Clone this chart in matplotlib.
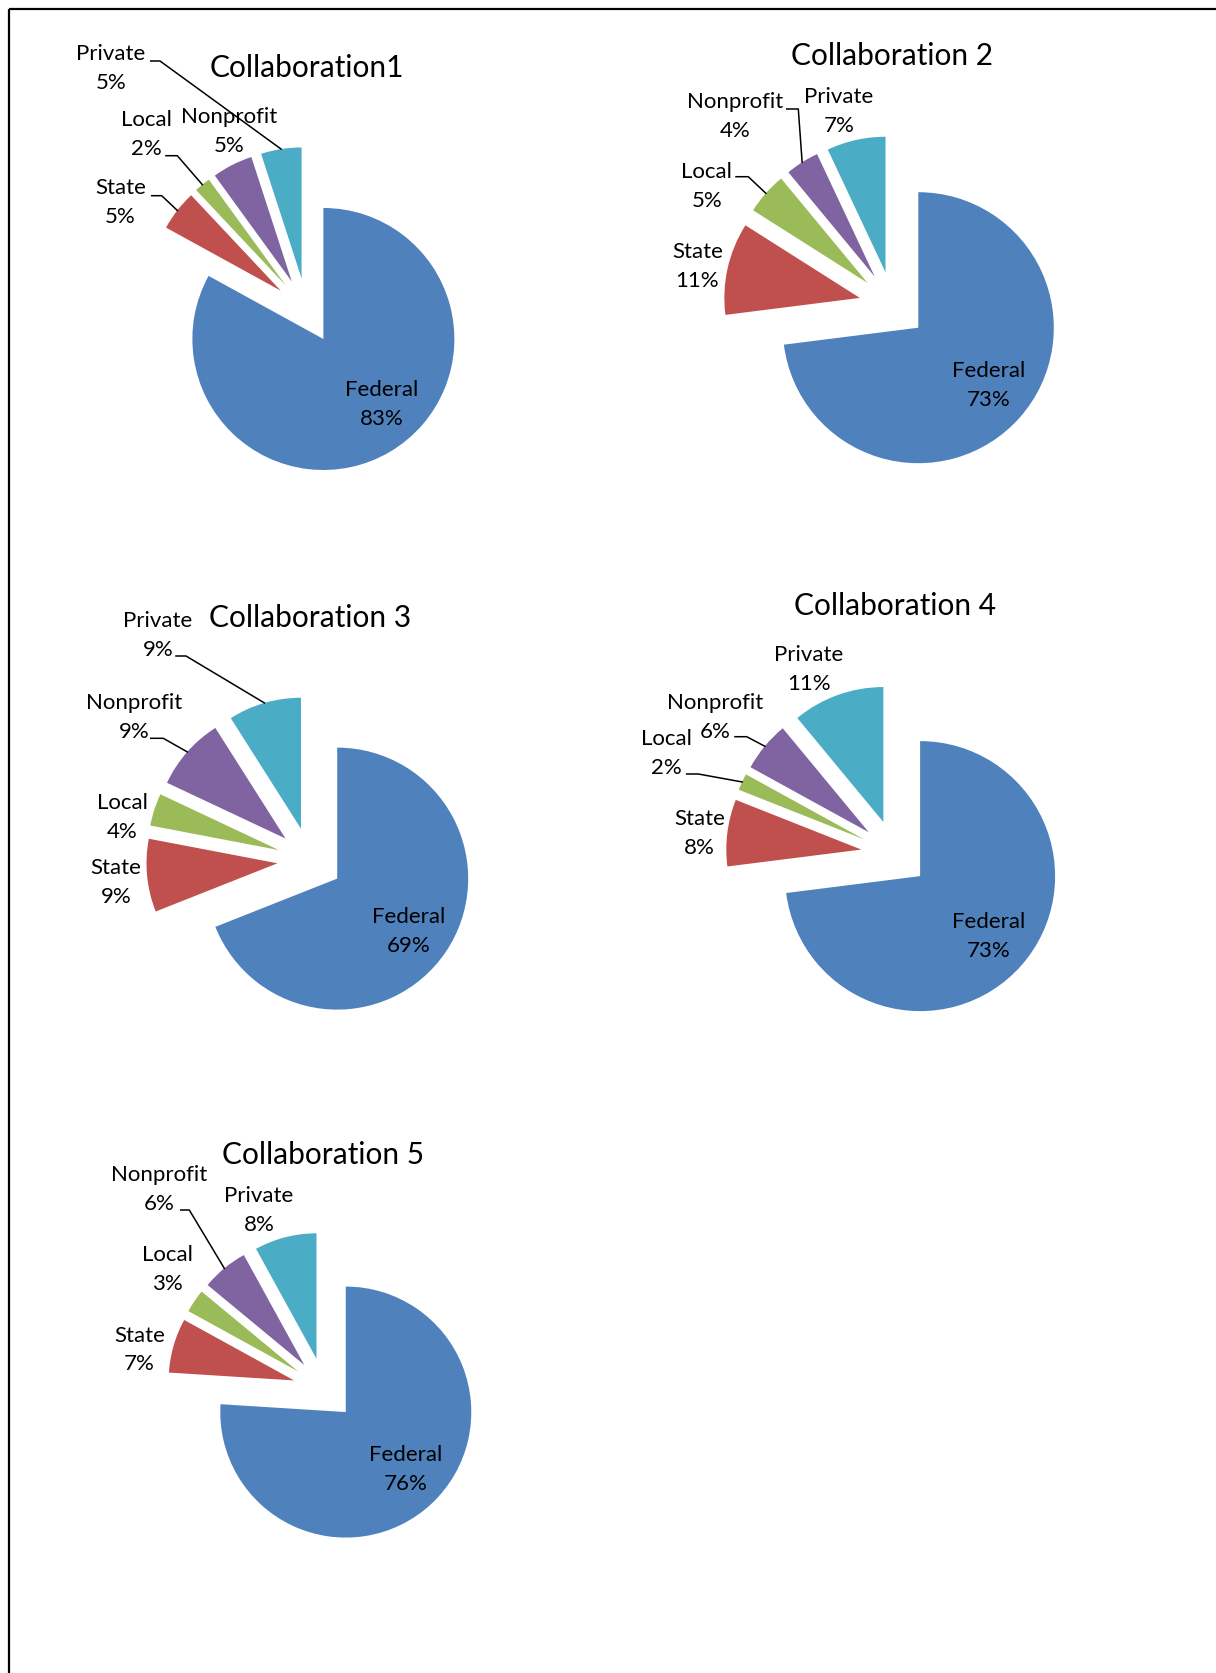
import matplotlib
matplotlib.use("Agg")
import matplotlib.pyplot as plt
import numpy as np

# %% data
categories = ["Federal", "State", "Local", "Nonprofit", "Private"]
collab1 = [83, 5, 2, 5, 5]
collab2 = [73, 11, 5, 4, 7]
collab3 = [69, 9, 4, 9, 9]
collab4 = [73, 8, 2, 6, 11]
collab5 = [76, 7, 3, 6, 8]
titles = ["Collaboration1", "Collaboration 2", "Collaboration 3",
          "Collaboration 4", "Collaboration 5"]
all_values = [collab1, collab2, collab3, collab4, collab5]

colors = ["#4F81BD", "#C0504D", "#9BBB59", "#8064A2", "#4BACC6"]

# %% layout (pixel positions, y measured from top of the page)
W, H = 1216, 1673
explode_frac = 0.25  # every slice pulled out by a quarter of the radius
layout = [
    dict(center=(306.7, 310.8), r=131, title=(306.7, 67.5),
         labels=[(382, 404.7), (120.5, 202.8), (146, 134.8), (229, 131.2), (111, 68.3)],
         leaders={1: (151.7, 195.7, 161.7), 2: (166, 155.7, 177.3), 4: (150.7, 61, 160)}),
    dict(center=(892.9, 305.3), r=135.5, title=(892.3, 56),
         labels=[(988.3, 385.8), (697.3, 266.2), (706.7, 186.7), (735.5, 116.7), (838.8, 111)],
         leaders={2: (736, 176.7, 748.3), 3: (786.7, 109, 798.3)}),
    dict(center=(310.1, 860.2), r=131, title=(310, 617.5),
         labels=[(408.3, 931.2), (115.8, 882.8), (122.5, 817.2), (133.8, 717.2), (157.8, 635.3)],
         leaders={3: (150.7, 738.3, 163.3), 4: (176, 656, 186)}),
    dict(center=(894.8, 853.8), r=135, title=(895, 606),
         labels=[(989, 936.8), (699.3, 833.2), (666.8, 753.5), (715.5, 717.2), (808.7, 669.2)],
         leaders={2: (686.7, 774, 698.3), 3: (735, 736.7, 746.7)}),
    dict(center=(324.3, 1389.2), r=125.5, title=(323.3, 1154.5),
         labels=[(406, 1469.5), (139.3, 1350), (167, 1269.5), (159.3, 1189.5), (259, 1210.5)],
         leaders={3: (180.7, 1210, 189.3)}),
]

font = "Lato"
label_size = 16
title_size = 21.5
line_gap = 29

fig = plt.figure(figsize=(W / 100, H / 100), dpi=100)
ax = fig.add_axes([0, 0, 1, 1])

for values, title, lay in zip(all_values, titles, layout):
    cx, cy = lay["center"]
    r = lay["r"]
    # pie's explode is in data units, so scale by the radius
    wedges, _ = ax.pie(values, colors=colors, startangle=90, counterclock=False,
                       explode=[explode_frac * r] * len(values), radius=r,
                       center=(cx, H - cy), wedgeprops=dict(linewidth=0))
    ax.text(lay["title"][0], H - lay["title"][1], title, ha="center", va="center",
            fontsize=title_size, family=font, color="black")
    for i, (cat, v) in enumerate(zip(categories, values)):
        lx, ly = lay["labels"][i]
        ax.text(lx, H - (ly - line_gap / 2), cat, ha="center", va="center",
                fontsize=label_size, family=font, color="black")
        ax.text(lx, H - (ly + line_gap / 2), f"{v}%", ha="center", va="center",
                fontsize=label_size, family=font, color="black")
        if i in lay["leaders"]:
            # leader goes from the label to the middle of the slice's outer arc
            w = wedges[i]
            mid = np.deg2rad((w.theta1 + w.theta2) / 2)
            ex = w.center[0] + w.r * np.cos(mid)
            ey = w.center[1] + w.r * np.sin(mid)
            x0, y0, x1 = lay["leaders"][i]
            ax.plot([x0, x1, ex], [H - y0, H - y0, ey], color="black", lw=1.1)

# page frame (top and left edge only)
ax.plot([8.5, W], [H - 8.5, H - 8.5], color="black", lw=1.6, solid_capstyle="butt")
ax.plot([8.5, 8.5], [0, H - 8.5], color="black", lw=1.6, solid_capstyle="butt")

ax.set_xlim(0, W)
ax.set_ylim(0, H)
ax.set_aspect("equal")
ax.axis("off")

fig.savefig("out.png", dpi=100, facecolor="white")
